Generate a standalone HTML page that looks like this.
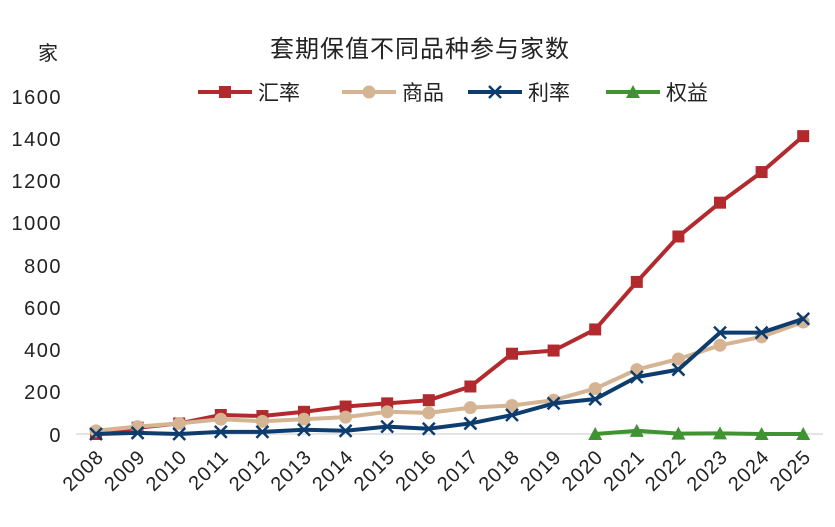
<!DOCTYPE html>
<html><head><meta charset="utf-8"><style>
html,body{margin:0;padding:0;background:#fff;}
svg{display:block;}
text{font-family:"Liberation Sans","Noto Sans CJK SC",sans-serif;}
</style></head><body>
<svg width="835" height="527" viewBox="0 0 835 527" xmlns="http://www.w3.org/2000/svg">
<text x="420" y="57" font-size="24" text-anchor="middle" font-family="'Noto Serif CJK SC','Noto Sans CJK SC',serif" fill="#222" letter-spacing="1">套期保值不同品种参与家数</text>
<text x="38" y="60" font-size="20" font-family="'Noto Serif CJK SC','Noto Sans CJK SC',serif" fill="#222">家</text>
<g font-size="21" fill="#222" font-family="'Noto Serif CJK SC','Noto Sans CJK SC',serif">
<line x1="198" y1="92" x2="252" y2="92" stroke="#b22a2e" stroke-width="4"/><rect x="219" y="86" width="12" height="12" fill="#b22a2e"/><text x="258" y="100">汇率</text>
<line x1="342" y1="92" x2="396" y2="92" stroke="#d4b493" stroke-width="4"/><circle cx="369" cy="92" r="6.5" fill="#d4b493"/><text x="402" y="100">商品</text>
<line x1="468" y1="92" x2="522" y2="92" stroke="#0d3c6e" stroke-width="4"/><path d="M489,86 L501,98 M501,86 L489,98" stroke="#0d3c6e" stroke-width="2.5"/><text x="528" y="100">利率</text>
<line x1="606" y1="92" x2="660" y2="92" stroke="#3f9431" stroke-width="4"/><path d="M633,85 L640,98 L626,98 Z" fill="#3f9431"/><text x="666" y="100">权益</text>
</g>
<g font-size="20" fill="#222" text-anchor="end" letter-spacing="1.5">
<text x="62" y="104">1600</text><text x="62" y="146">1400</text><text x="62" y="188">1200</text><text x="62" y="230">1000</text>
<text x="62" y="273">800</text><text x="62" y="315">600</text><text x="62" y="357">400</text><text x="62" y="399">200</text><text x="62" y="442">0</text>
</g>
<line x1="76" y1="434" x2="823" y2="434" stroke="#c8c8c8" stroke-width="1"/>
<g id="pts"></g>
<g font-size="20" fill="#222" text-anchor="end" letter-spacing="1" id="xl"></g>
</svg>
<script>
function X(i){return 96+i*41.6;}
function Y(v){return 434-v*0.21125;}
var red=[0,30,50,90,85,105,130,145,160,225,380,395,495,720,935,1095,1240,1410];
var tan=[15,35,50,70,60,70,80,105,100,125,135,160,215,305,355,420,460,530];
var blu=[0,5,0,10,10,20,15,35,25,50,90,145,165,270,305,480,480,545];
var grn=[0,15,2,3,0,0];
var g=document.getElementById('pts'),s="";
function line(d,off,c){var p=d.map(function(v,i){return X(i+off).toFixed(1)+","+Y(v).toFixed(1)}).join(" ");
return '<polyline points="'+p+'" fill="none" stroke="'+c+'" stroke-width="4" stroke-linejoin="round"/>';}
s+=line(red,0,"#b22a2e");
red.forEach(function(v,i){s+='<rect x="'+(X(i)-6)+'" y="'+(Y(v)-6)+'" width="12" height="12" fill="#b22a2e"/>';});
s+=line(tan,0,"#d4b493");
tan.forEach(function(v,i){s+='<circle cx="'+X(i)+'" cy="'+Y(v)+'" r="6.5" fill="#d4b493"/>';});
s+=line(blu,0,"#0d3c6e");
blu.forEach(function(v,i){var x=X(i),y=Y(v);s+='<path d="M'+(x-6)+','+(y-6)+' L'+(x+6)+','+(y+6)+' M'+(x+6)+','+(y-6)+' L'+(x-6)+','+(y+6)+'" stroke="#0d3c6e" stroke-width="2.5"/>';});
s+=line(grn,12,"#3f9431");
grn.forEach(function(v,i){var x=X(i+12),y=Y(v);s+='<path d="M'+x+','+(y-7)+' L'+(x+7)+','+(y+6)+' L'+(x-7)+','+(y+6)+' Z" fill="#3f9431"/>';});
g.innerHTML=s;
var xl=document.getElementById('xl'),t="";
for(var i=0;i<18;i++){var x=X(i)+9,y=458;t+='<text transform="translate('+x+','+y+') rotate(-45)">'+(2008+i)+'</text>';}
xl.innerHTML=t;
</script>
</body></html>
